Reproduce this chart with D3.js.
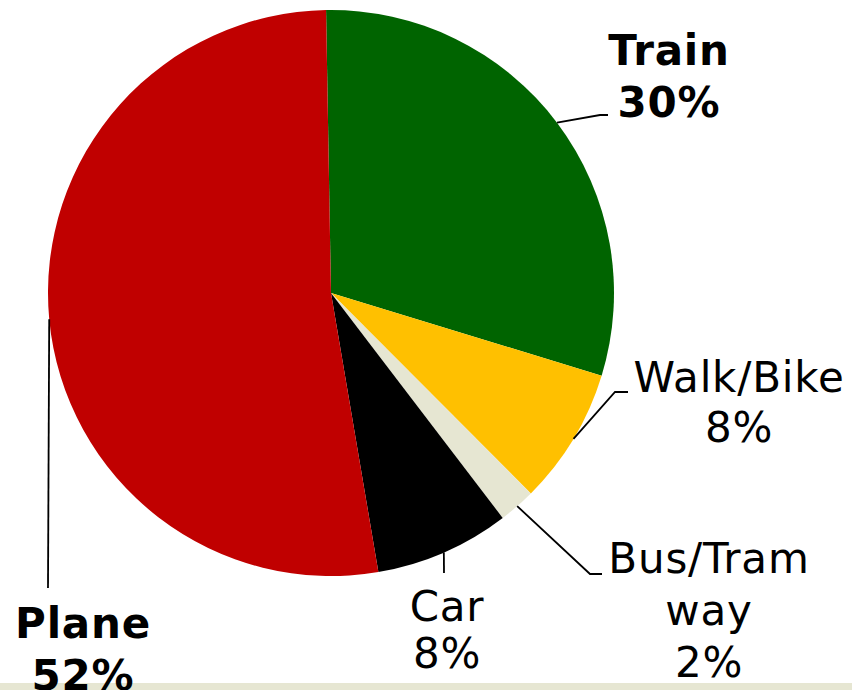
<!DOCTYPE html>
<html>
<head>
<meta charset="utf-8">
<script src="https://d3js.org/d3.v7.min.js"></script>
<style>
  body { margin: 0; background: #fff; }
  text { font-family: "DejaVu Sans", Verdana, sans-serif; font-size: 42px; letter-spacing: 0.8px; fill: #000; }
</style>
</head>
<body>
<svg width="852" height="690"></svg>
<script>
// data
var categories = ["Train", "Walk/Bike", "Bus/Tram way", "Car", "Plane"];
var shares = [30.0, 7.8, 2.1, 7.7, 52.4];
var labelLines = [["Train"], ["Walk/Bike"], ["Bus/Tram", "way"], ["Car"], ["Plane"]];
var colors = ["#006400", "#ffc000", "#e6e6d2", "#000000", "#c00000"];
var boldLabel = [true, false, false, false, true];

var svg = d3.select("svg");
var cx = 331, cy = 293, r = 283;
var tilt = -1 * Math.PI / 180;

// beige strip along the bottom
svg.append("rect").attr("x", 0).attr("y", 683).attr("width", 852).attr("height", 7).attr("fill", "#e6e6d2");

var pie = d3.pie().sort(null).startAngle(tilt).endAngle(2 * Math.PI + tilt);
var arcs = pie(shares);
var arc = d3.arc().innerRadius(0).outerRadius(r);

var g = svg.append("g").attr("transform", "translate(" + cx + "," + cy + ")");
g.selectAll("path").data(arcs).enter().append("path")
  .attr("d", arc)
  .attr("fill", function(d, i) { return colors[i]; });

// leader lines: start on the rim at the slice middle, then bend toward the label
var elbows = [
  [[600, 115], [608, 115]],
  [[615, 392], [628, 392]],
  [[590, 574], [602, 574]],
  [[444, 573]],
  [[48, 588]]
];
// label anchor: centre x, first baseline, line step
var labelPos = [
  [669, 65, 52],
  [739, 392, 50],
  [709, 573, 52],
  [447, 621, 47],
  [83, 638, 52]
];

arcs.forEach(function(d, i) {
  var a = (d.startAngle + d.endAngle) / 2;
  var p0 = [cx + r * Math.sin(a), cy - r * Math.cos(a)];
  var pts = [p0].concat(elbows[i]);
  svg.append("path")
    .attr("d", d3.line()(pts))
    .attr("fill", "none")
    .attr("stroke", "#000")
    .attr("stroke-width", 1.8);

  var lines = labelLines[i].concat([Math.round(shares[i]) + "%"]);
  var t = svg.append("text")
    .attr("text-anchor", "middle")
    .attr("font-weight", boldLabel[i] ? "bold" : "normal");
  lines.forEach(function(s, k) {
    t.append("tspan")
      .attr("x", labelPos[i][0])
      .attr("y", labelPos[i][1] + k * labelPos[i][2])
      .text(s);
  });
});
</script>
</body>
</html>
